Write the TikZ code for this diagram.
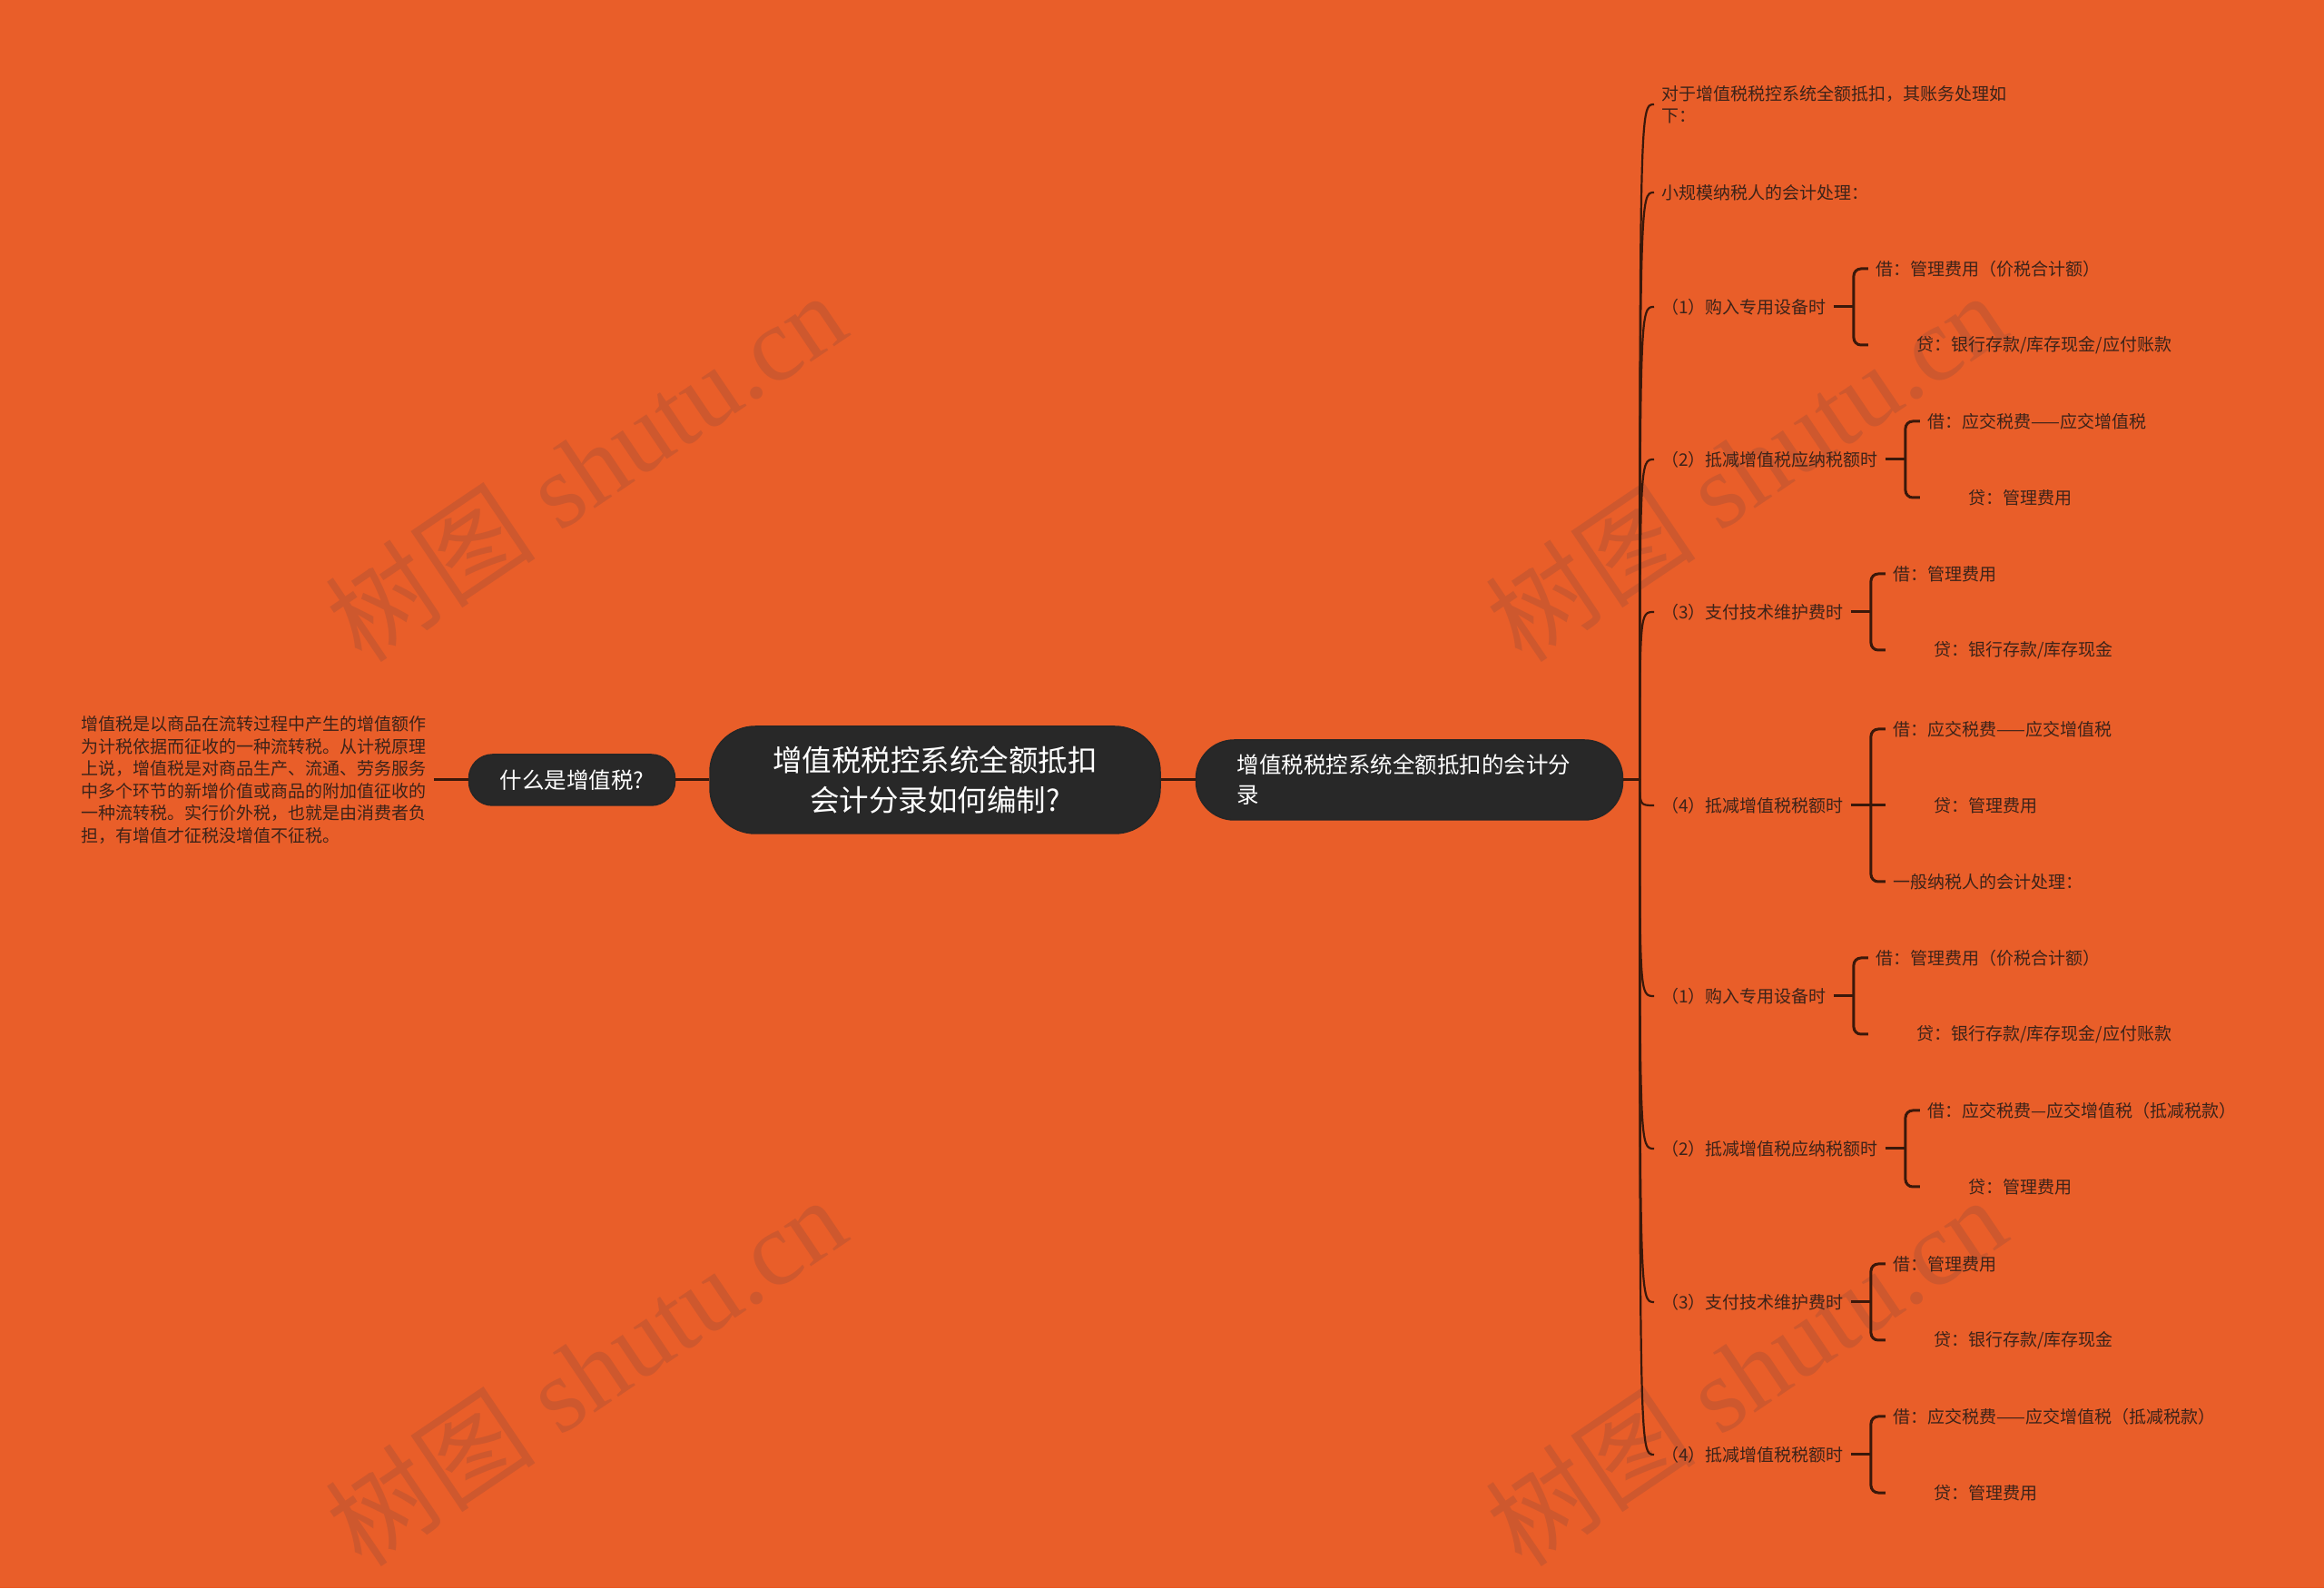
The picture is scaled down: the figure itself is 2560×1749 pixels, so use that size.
\documentclass[tikz,border=0pt]{standalone}
\usepackage{fontspec}
\newfontfamily\cjk{Noto Sans CJK SC}
\newfontfamily\wmfont{Liberation Serif}
\usetikzlibrary{positioning,calc}

\definecolor{bgorange}{RGB}{233,94,41}
\definecolor{topicfill}{RGB}{40,40,40}
\definecolor{linkbrown}{RGB}{58,24,10}
\definecolor{leaftext}{RGB}{60,35,25}
\definecolor{wmark}{RGB}{206,88,46}

\tikzset{
  topic/.style={fill=topicfill, draw=black!85, line width=1.5pt, text=white, align=center},
  leaf/.style={font=\cjk\fontsize{19pt}{24pt}\selectfont, text=leaftext, inner xsep=8pt, inner ysep=3pt, anchor=west, align=left},
  link/.style={draw=linkbrown, line width=3pt},
  twig/.style={draw=linkbrown, line width=2.2pt},
  brace/.style={draw=linkbrown, line width=3pt, rounded corners=8pt},
  wmtext/.style={text=wmark, rotate=34, font=\wmfont\fontsize{116pt}{116pt}\selectfont}
}

\begin{document}
\begin{tikzpicture}[x=1pt, y=1pt]
    % Canvas
    \useasboundingbox (0,0) rectangle (2560,1749);
    \fill[bgorange] (0,0) rectangle (2560,1749);

    % Watermarks
    \foreach \wx/\wy in {645/1235, 1923/1235, 645/239, 1923/239}
        \node[wmtext] at (\wx,\wy) {{\cjk 树图} shutu.cn};

    % Centre topic and first level
    \node[topic, minimum width=496pt, minimum height=118pt, rounded corners=50pt,
          font=\cjk\fontsize{32.5pt}{44pt}\selectfont] (root) at (1030,890)
          {增值税税控系统全额抵扣\\会计分录如何编制?};
    \node[topic, minimum width=227pt, minimum height=56pt, rounded corners=26pt,
          font=\cjk\fontsize{24.5pt}{30pt}\selectfont, left=37pt of root] (what) {什么是增值税?};
    \node[topic, text width=380pt, inner xsep=45pt, minimum height=88pt, rounded corners=42pt,
          align=left, font=\cjk\fontsize{24.5pt}{33pt}\selectfont, right=38pt of root] (entry)
          {增值税税控系统全额抵扣的会计分\\录};
    \node[leaf, font=\cjk\fontsize{19pt}{24.5pt}\selectfont, left=38pt of what] (defn)
          {增值税是以商品在流转过程中产生的增值额作\\
           为计税依据而征收的一种流转税。从计税原理\\
           上说，增值税是对商品生产、流通、劳务服务\\
           中多个环节的新增价值或商品的附加值征收的\\
           一种流转税。实行价外税，也就是由消费者负\\
           担，有增值才征税没增值不征税。};

    \draw[link] (defn) -- (what);
    \draw[link] (what) -- (root);
    \draw[link] (root) -- (entry);
    \coordinate (hub) at ([xshift=18pt]entry.east);
    \draw[link] (entry.east) -- (hub);

    % Second level
    \node[leaf] (s1) at (1822,1634) {对于增值税税控系统全额抵扣，其账务处理如\\下：};
    \node[leaf] (s2) at (1822,1537) {小规模纳税人的会计处理：};
    \node[leaf] (s3) at (1822,1411) {（1）购入专用设备时};
    \node[leaf] (s4) at (1822,1243) {（2）抵减增值税应纳税额时};
    \node[leaf] (s5) at (1822,1075) {（3）支付技术维护费时};
    \node[leaf] (s6) at (1822,862)  {（4）抵减增值税税额时};
    \node[leaf] (s7) at (1822,652)  {（1）购入专用设备时};
    \node[leaf] (s8) at (1822,484)  {（2）抵减增值税应纳税额时};
    \node[leaf] (s9) at (1822,315)  {（3）支付技术维护费时};
    \node[leaf] (s10) at (1822,147) {（4）抵减增值税税额时};

    \foreach \i in {1,...,10}
        \draw[twig] (hub) .. controls (hub |- s\i.west) .. (s\i.west);

    % Third level: debit / credit entries
    \node[leaf] (s3a) at ([xshift=38pt, yshift=42pt]s3.east) {借：管理费用（价税合计额）};
    \node[leaf] (s3b) at ([xshift=38pt, yshift=-42pt]s3.east) {\hspace*{45pt}贷：银行存款/库存现金/应付账款};
    \node[leaf] (s4a) at ([xshift=38pt, yshift=42pt]s4.east) {借：应交税费——应交增值税};
    \node[leaf] (s4b) at ([xshift=38pt, yshift=-42pt]s4.east) {\hspace*{45pt}贷：管理费用};
    \node[leaf] (s5a) at ([xshift=38pt, yshift=42pt]s5.east) {借：管理费用};
    \node[leaf] (s5b) at ([xshift=38pt, yshift=-42pt]s5.east) {\hspace*{45pt}贷：银行存款/库存现金};
    \node[leaf] (s6a) at ([xshift=38pt, yshift=84pt]s6.east) {借：应交税费——应交增值税};
    \node[leaf] (s6b) at ([xshift=38pt]s6.east) {\hspace*{45pt}贷：管理费用};
    \node[leaf] (s6c) at ([xshift=38pt, yshift=-84pt]s6.east) {一般纳税人的会计处理：};
    \node[leaf] (s7a) at ([xshift=38pt, yshift=42pt]s7.east) {借：管理费用（价税合计额）};
    \node[leaf] (s7b) at ([xshift=38pt, yshift=-42pt]s7.east) {\hspace*{45pt}贷：银行存款/库存现金/应付账款};
    \node[leaf] (s8a) at ([xshift=38pt, yshift=42pt]s8.east) {借：应交税费—应交增值税（抵减税款）};
    \node[leaf] (s8b) at ([xshift=38pt, yshift=-42pt]s8.east) {\hspace*{45pt}贷：管理费用};
    \node[leaf] (s9a) at ([xshift=38pt, yshift=42pt]s9.east) {借：管理费用};
    \node[leaf] (s9b) at ([xshift=38pt, yshift=-42pt]s9.east) {\hspace*{45pt}贷：银行存款/库存现金};
    \node[leaf] (s10a) at ([xshift=38pt, yshift=42pt]s10.east) {借：应交税费——应交增值税（抵减税款）};
    \node[leaf] (s10b) at ([xshift=38pt, yshift=-42pt]s10.east) {\hspace*{45pt}贷：管理费用};

    \foreach \s/\a/\b in {s3/s3a/s3b, s4/s4a/s4b, s5/s5a/s5b, s6/s6a/s6c,
                          s7/s7a/s7b, s8/s8a/s8b, s9/s9a/s9b, s10/s10a/s10b} {
        \draw[link] (\s.east) -- ++(22pt,0);
        \draw[brace] (\a.west) -- ++(-16pt,0) |- (\b.west);
    }
    \draw[link] (s6.east) -- (s6b.west);
\end{tikzpicture}
\end{document}
